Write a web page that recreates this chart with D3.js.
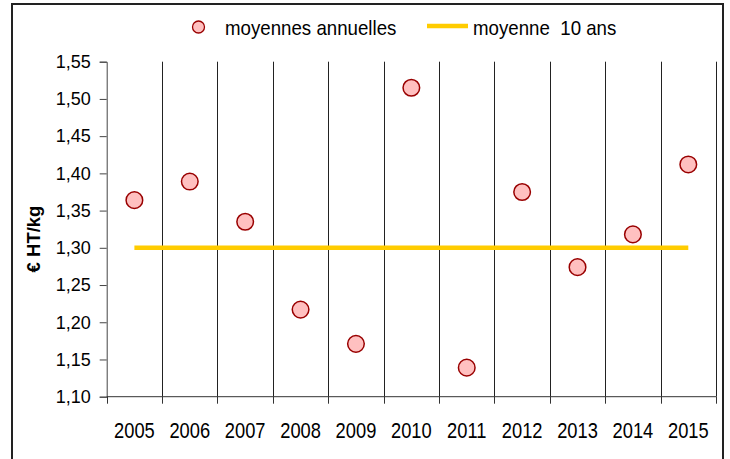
<!DOCTYPE html>
<html>
<head>
<meta charset="utf-8">
<script src="https://cdn.jsdelivr.net/npm/d3@7"></script>
<style>
  body { margin: 0; background: #fff; }
  svg { display: block; font-family: "Liberation Sans", Arial, sans-serif; }
</style>
</head>
<body>
<svg id="chart" width="730" height="459"></svg>
<script>
// data
let years = ['2005','2006','2007','2008','2009','2010','2011','2012','2013','2014','2015']
let annualMeans = [1.364, 1.389, 1.335, 1.217, 1.171, 1.515, 1.139, 1.375, 1.274, 1.318, 1.412]
let tenYearMean = 1.30
let yTicks = [1.10, 1.15, 1.20, 1.25, 1.30, 1.35, 1.40, 1.45, 1.50, 1.55]

let svg = d3.select('#chart')

let plotLeft = 106.7, plotRight = 716, plotTop = 61.7, plotBottom = 396.7

let x = d3.scaleBand().domain(years).range([plotLeft, plotRight]).padding(0)
let y = d3.scaleLinear().domain([1.10, 1.55]).range([plotBottom, plotTop])
let fmt = d => d3.format('.2f')(d).replace('.', ',')

// outer frame
svg.append('rect')
    .attr('x', 12).attr('y', 4)
    .attr('width', 711).attr('height', 470)
    .attr('fill', 'none').attr('stroke', '#222').attr('stroke-width', 2)

// vertical grid lines at category boundaries
let bounds = years.map(d => x(d)).concat([plotRight])
svg.append('g').selectAll('line')
    .data(bounds.slice(1))
    .enter().append('line')
    .attr('x1', d => Math.round(d) + 0.5).attr('x2', d => Math.round(d) + 0.5)
    .attr('y1', plotTop).attr('y2', plotBottom)
    .attr('stroke', '#222').attr('stroke-width', 1)

// y axis
let yAxis = svg.append('g')
    .attr('transform', `translate(${plotLeft},0)`)
    .call(d3.axisLeft(y).tickValues(yTicks).tickFormat(fmt).tickSize(7).tickPadding(9))
yAxis.select('.domain').attr('stroke', '#444')
yAxis.selectAll('.tick line').attr('stroke', '#444')
yAxis.selectAll('text').attr('font-size', 18).attr('fill', '#000')
    .attr('font-family', '"Liberation Sans", Arial, sans-serif')

// x axis: baseline, boundary ticks, centered year labels
svg.append('line')
    .attr('x1', plotLeft).attr('x2', plotRight)
    .attr('y1', plotBottom).attr('y2', plotBottom)
    .attr('stroke', '#333')
svg.append('g').selectAll('line')
    .data(bounds)
    .enter().append('line')
    .attr('x1', d => Math.round(d) + 0.5).attr('x2', d => Math.round(d) + 0.5)
    .attr('y1', plotBottom).attr('y2', plotBottom + 7)
    .attr('stroke', '#333')
svg.append('g').selectAll('text')
    .data(years)
    .enter().append('text')
    .attr('transform', d => `translate(${x(d) + x.bandwidth() / 2},437.5) scale(1,1.2)`)
    .attr('text-anchor', 'middle')
    .attr('font-size', 18.3)
    .text(d => d)

// y title
svg.append('text')
    .attr('transform', 'translate(40,239) rotate(-90)')
    .attr('text-anchor', 'middle')
    .attr('font-size', 18.5).attr('font-weight', 'bold')
    .text('€ HT/kg')

// 10-year mean
svg.append('line')
    .attr('x1', x(years[0]) + x.bandwidth() / 2)
    .attr('x2', x(years[years.length - 1]) + x.bandwidth() / 2)
    .attr('y1', y(tenYearMean)).attr('y2', y(tenYearMean))
    .attr('stroke', '#ffcc00').attr('stroke-width', 4.5)

// annual means
svg.append('g').selectAll('circle')
    .data(annualMeans)
    .enter().append('circle')
    .attr('cx', (d, i) => x(years[i]) + x.bandwidth() / 2)
    .attr('cy', d => y(d))
    .attr('r', 8.3)
    .attr('fill', '#ffc0c0')
    .attr('stroke', '#990000').attr('stroke-width', 1.5)

// legend
let legend = svg.append('g')
legend.append('circle')
    .attr('cx', 198.5).attr('cy', 27).attr('r', 6)
    .attr('fill', '#ffc0c0').attr('stroke', '#990000').attr('stroke-width', 1.3)
legend.append('text')
    .attr('transform', 'translate(225,35) scale(1,1.1)')
    .attr('font-size', 18.7)
    .text('moyennes annuelles')
legend.append('line')
    .attr('x1', 427).attr('x2', 468)
    .attr('y1', 26).attr('y2', 26)
    .attr('stroke', '#ffcc00').attr('stroke-width', 4.5)
legend.append('text')
    .attr('transform', 'translate(473,35) scale(1,1.1)')
    .attr('font-size', 18.7)
    .style('white-space', 'pre')
    .text('moyenne  10 ans')
</script>
</body>
</html>
